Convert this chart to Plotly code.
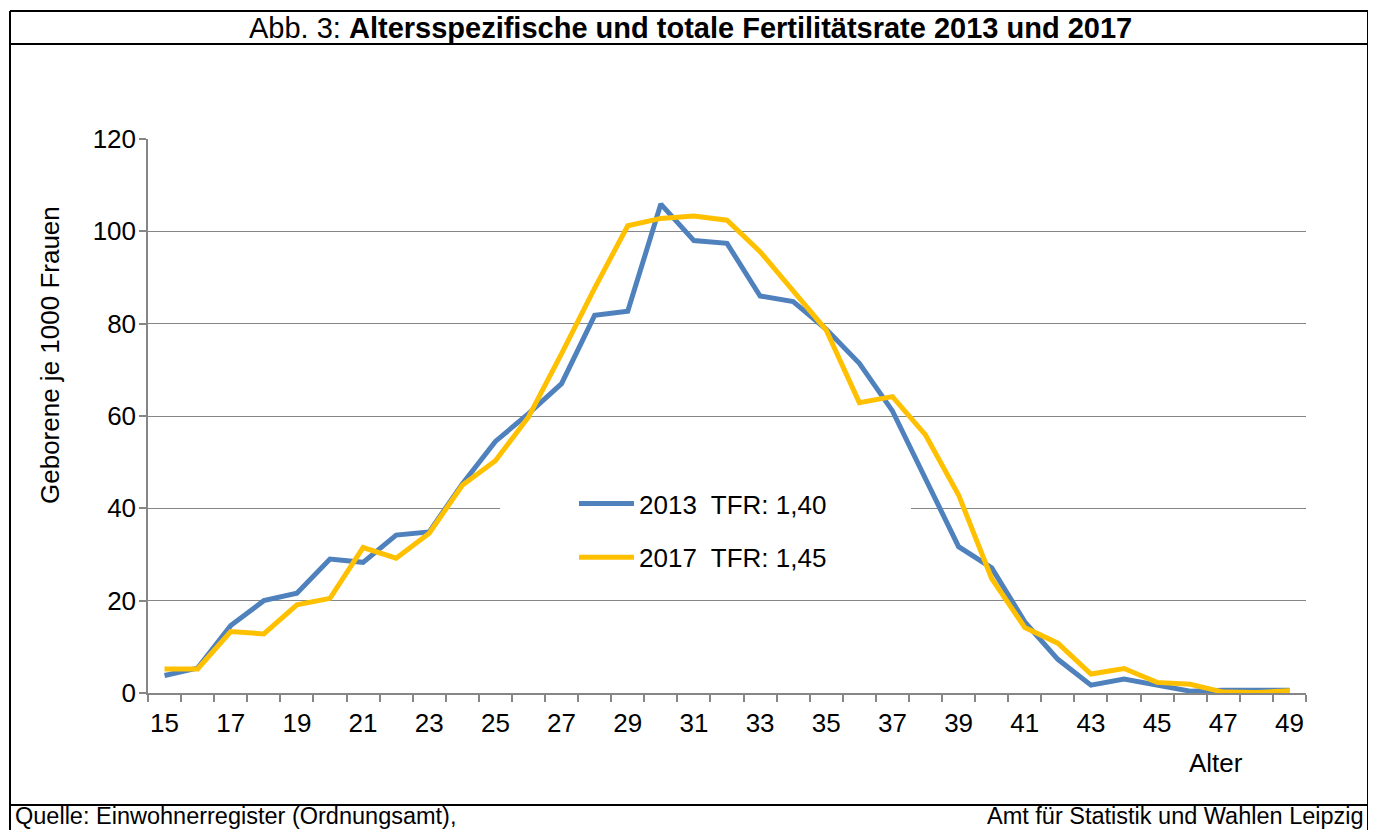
import plotly.graph_objects as go

# ---- data ----
ages = list(range(15, 50))
rate_2013 = [3.8, 5.4, 14.6, 20.0, 21.6, 29.0, 28.3, 34.2, 34.9, 45.3,
             54.5, 60.5, 67.0, 81.8, 82.7, 105.9, 98.0, 97.4, 86.0, 84.8,
             78.8, 71.4, 61.1, 46.1, 31.7, 27.1, 15.4, 7.3, 1.7, 3.0,
             1.7, 0.4, 0.6, 0.6, 0.6]
rate_2017 = [5.2, 5.2, 13.3, 12.8, 19.1, 20.5, 31.5, 29.2, 34.6, 45.0,
             50.3, 59.8, 73.5, 87.7, 101.2, 102.8, 103.3, 102.4, 95.6, 87.3,
             78.6, 62.9, 64.2, 55.9, 42.9, 24.8, 14.2, 10.8, 4.1, 5.3,
             2.3, 1.9, 0.2, 0.1, 0.5]
series_names = ["2013\u00a0 TFR: 1,40", "2017\u00a0 TFR: 1,45"]
series_colors = ["#4F81BD", "#FFC000"]
x_tick_labels = list(range(15, 50, 2))

# ---- layout geometry (page pixels) ----
PAGE_W, PAGE_H = 1376, 830
OFF = 8                      # default body margin of the html page
FIG_W, FIG_H = PAGE_W - OFF, PAGE_H - OFF
L, R, T, B = 148, 1306, 139, 693
PW, PH = R - L, B - T
X_MIN, X_MAX = 14.5, 49.5


def px(x):
    return (x - L) / PW


def py(y):
    return (B - y) / PH


def xdata(x):
    return X_MIN + (x - L) / PW * (X_MAX - X_MIN)


FONT = "Liberation Sans, Arial, sans-serif"
GRID = "#868686"

fig = go.Figure()
for name, vals, col, grp in zip(series_names, [rate_2013, rate_2017], series_colors, ["a", "b"]):
    fig.add_trace(go.Scatter(x=ages, y=vals, mode="lines", name=name,
                             legendgroup=grp,
                             line=dict(color=col, width=5)))

shapes = []
for (x0, y0, x1, y1) in [(10, 11, 1368, 11), (10, 11, 10, 840), (1368, 11, 1368, 840),
                         (10, 44, 1368, 44), (10, 805, 1368, 805)]:
    shapes.append(dict(type="line", xref="paper", yref="paper",
                       x0=px(x0), y0=py(y0), x1=px(x1), y1=py(y1),
                       line=dict(color="black", width=2)))

# white legend backdrop interrupting the gridline
shapes.append(dict(type="rect", xref="x", yref="y", layer="between",
                   x0=xdata(500), x1=xdata(911), y0=38.5, y1=41.5,
                   fillcolor="white", line=dict(width=0)))

annotations = [
    dict(text="Abb. 3: <b>Altersspezifische und totale Fertilitätsrate 2013 und 2017</b>",
         x=px(690), y=py(28), xref="paper", yref="paper", xanchor="center", yanchor="middle",
         showarrow=False, font=dict(family=FONT, size=29, color="black")),
    dict(text="Quelle: Einwohnerregister (Ordnungsamt),",
         x=px(13), y=py(831), xref="paper", yref="paper", xanchor="left", yanchor="bottom",
         showarrow=False, font=dict(family=FONT, size=23.5, color="black")),
    dict(text="Amt für Statistik und Wahlen Leipzig",
         x=px(1366), y=py(831), xref="paper", yref="paper", xanchor="right", yanchor="bottom",
         showarrow=False, font=dict(family=FONT, size=23.5, color="black")),
    dict(text="Alter",
         x=px(1216), y=py(763), xref="paper", yref="paper", xanchor="center", yanchor="middle",
         showarrow=False, font=dict(family=FONT, size=26, color="black")),
    dict(text="Geborene je 1000 Frauen",
         x=px(50), y=py(355), xref="paper", yref="paper", xanchor="center", yanchor="middle",
         textangle=-90, showarrow=False, font=dict(family=FONT, size=26, color="black")),
]

fig.update_layout(
    width=FIG_W, height=FIG_H,
    margin=dict(l=L - OFF, r=PAGE_W - R, t=T - OFF, b=PAGE_H - B, pad=0),
    paper_bgcolor="white", plot_bgcolor="white",
    font=dict(family=FONT, size=26, color="black"),
    showlegend=True,
    legend=dict(x=px(574), y=py(480), xanchor="left", yanchor="top",
                bgcolor="rgba(0,0,0,0)", borderwidth=0,
                font=dict(family=FONT, size=26, color="black"),
                tracegroupgap=17, itemwidth=55),
    shapes=shapes,
    annotations=annotations,
)

fig.update_xaxes(range=[X_MIN, X_MAX], tickmode="array", tickvals=x_tick_labels,
                 ticktext=[str(v) for v in x_tick_labels], ticks="",
                 showgrid=False, zeroline=False, showline=True,
                 linecolor=GRID, linewidth=1.5,
                 tickfont=dict(family=FONT, size=26, color="black"),
                 ticklabelstandoff=6,
                 minor=dict(tick0=X_MIN, dtick=1, ticks="outside", ticklen=7,
                            tickcolor=GRID, tickwidth=1.5, showgrid=False))
fig.update_yaxes(range=[0, 120], dtick=20, ticks="outside", ticklen=7,
                 tickcolor=GRID, tickwidth=1.5,
                 showgrid=True, gridcolor=GRID, gridwidth=1.3,
                 zeroline=False, showline=True, linecolor=GRID, linewidth=1.5,
                 tickfont=dict(family=FONT, size=26, color="black"),
                 ticklabelstandoff=-2)

fig.write_html("out.html")
